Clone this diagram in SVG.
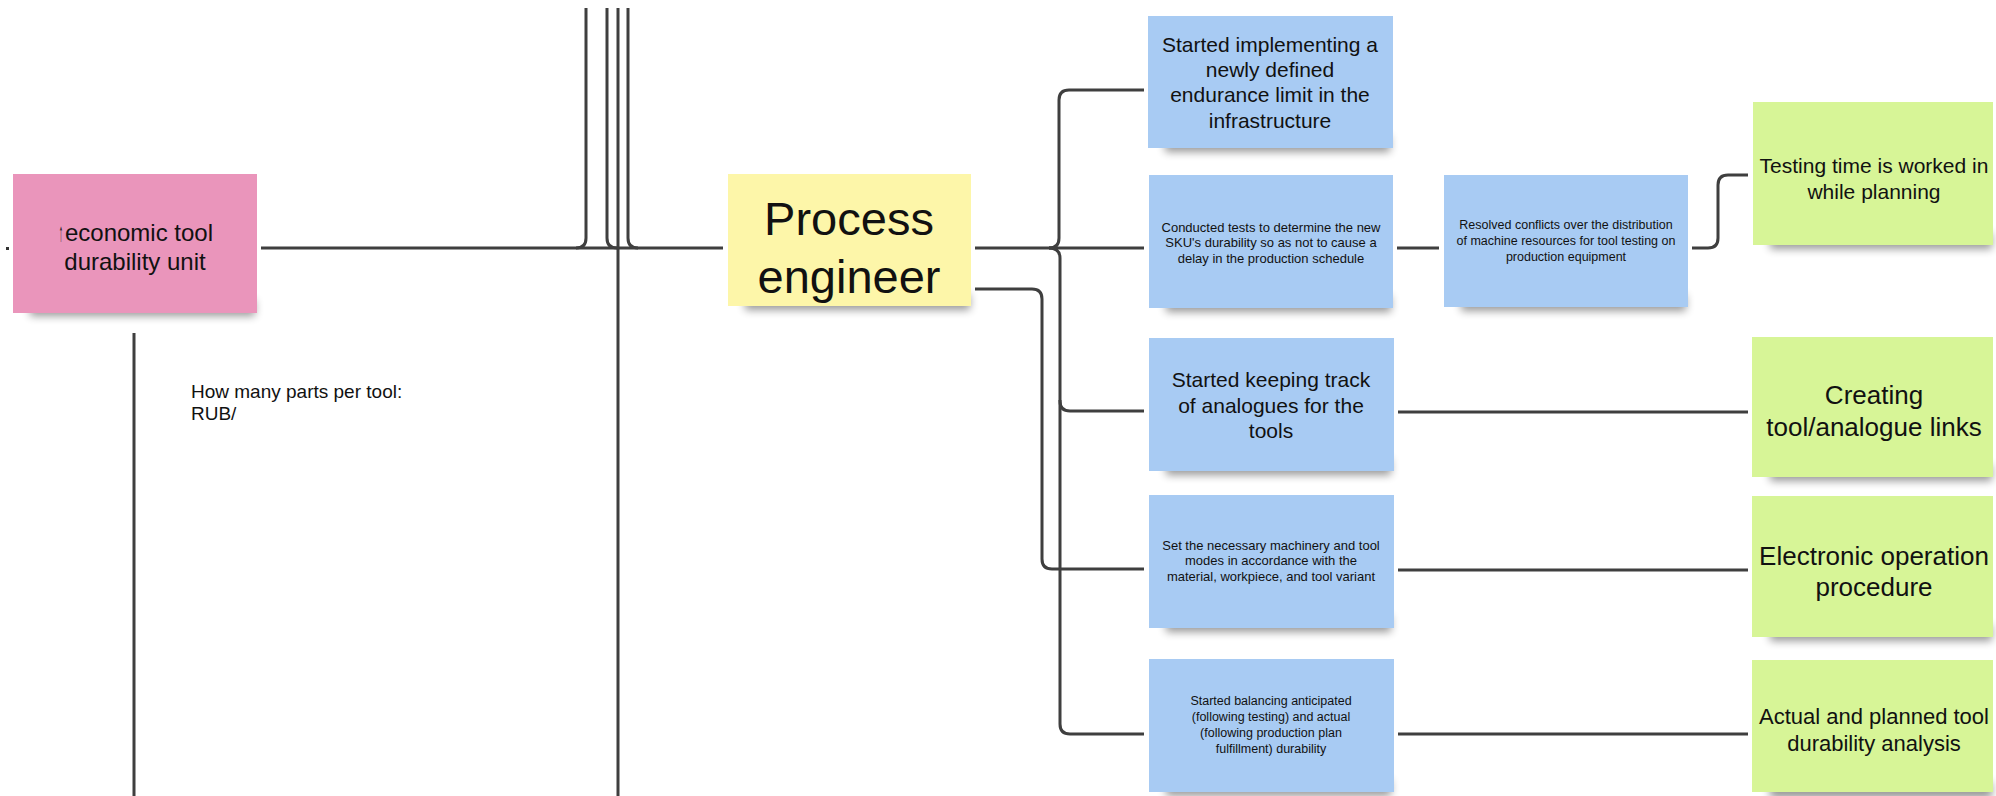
<svg xmlns="http://www.w3.org/2000/svg" width="1996" height="796" viewBox="0 0 1996 796">
<defs>
<filter id="blur" x="-20%" y="-100%" width="140%" height="300%"><feGaussianBlur stdDeviation="4"/></filter>
</defs>
<style>
text{font-family:"Liberation Sans",Arial,sans-serif;fill:#111;text-anchor:middle}
.c{fill:none;stroke:#3f3f3f;stroke-width:3;stroke-linejoin:round}
.sh{fill:#000;opacity:.4;filter:url(#blur)}
.pink{fill:#ea95bb}
.yel{fill:#fdf6a9}
.blue{fill:#a8cbf3}
.green{fill:#d7f597}
.s13{font-size:13px}
.s21{font-size:21px}
.s26{font-size:26px}
</style>
<rect width="1996" height="796" fill="#fff"/>

<g id="connectors">
  <path class="c" d="M261 248 H576 Q586 248 586 238 V8"/>
  <path class="c" d="M576 248 H723"/>
  <path class="c" d="M617 248 Q607 248 607 238 V8"/>
  <path class="c" d="M638 248 Q628 248 628 238 V8"/>
  <path class="c" d="M618 8 V796"/>
  <path class="c" d="M134 333 V796"/>
  <path class="c" d="M975 248 H1144"/>
  <path class="c" d="M1049 248 Q1059 248 1059 238 V100 Q1059 90 1069 90 H1144"/>
  <path class="c" d="M1049 248 Q1060 248 1060 258 V401 Q1060 411 1070 411 H1144"/>
  <path class="c" d="M1060 400 V724 Q1060 734 1070 734 H1144"/>
  <path class="c" d="M975 289 H1032 Q1042 289 1042 299 V559 Q1042 569 1052 569 H1144"/>
  <path class="c" d="M1397 248 H1439"/>
  <path class="c" d="M1692 248 H1708 Q1718 248 1718 238 V185 Q1718 175 1728 175 H1748"/>
  <path class="c" d="M1398 412 H1748"/>
  <path class="c" d="M1398 570 H1748"/>
  <path class="c" d="M1398 734 H1748"/>
</g>

<rect x="6" y="247" width="3" height="3" fill="#333"/>

<g id="economic-unit">
  <rect class="sh" x="30" y="300" width="225" height="16"/>
  <rect class="pink" x="13" y="174" width="244" height="139"/>
  <text x="61" y="241" font-size="26" transform="translate(61 0) scale(0.3 1) translate(-61 0)">↑</text>
  <text x="139" y="241" style="font-size:24px">economic tool</text>
  <text x="135" y="270" style="font-size:24px">durability unit</text>
</g>

<g id="note-parts">
  <text x="191" y="398" style="font-size:19px;text-anchor:start">How many parts per tool:</text>
  <text x="191" y="420" style="font-size:19px;text-anchor:start">RUB/</text>
</g>

<g id="process-engineer">
  <rect class="sh" x="745" y="294" width="225" height="16"/>
  <rect class="yel" x="728" y="174" width="243" height="132"/>
  <text x="849" y="235" style="font-size:47px">Process</text>
  <text x="849" y="293" style="font-size:47px">engineer</text>
</g>

<g id="b1">
  <rect class="sh" x="1165" y="136" width="225" height="16"/>
  <rect class="blue" x="1148" y="16" width="245" height="132"/>
  <text class="s21" x="1270" y="52">Started implementing a</text>
  <text class="s21" x="1270" y="77">newly defined</text>
  <text class="s21" x="1270" y="102">endurance limit in the</text>
  <text class="s21" x="1270" y="128">infrastructure</text>
</g>

<g id="b2">
  <rect class="sh" x="1166" y="296" width="225" height="16"/>
  <rect class="blue" x="1149" y="175" width="244" height="133"/>
  <text class="s13" x="1271" y="232">Conducted tests to determine the new</text>
  <text class="s13" x="1271" y="247">SKU's durability so as not to cause a</text>
  <text class="s13" x="1271" y="263">delay in the production schedule</text>
</g>

<g id="b3">
  <rect class="sh" x="1461" y="295" width="225" height="16"/>
  <rect class="blue" x="1444" y="175" width="244" height="132"/>
  <text x="1566" y="229" style="font-size:12.5px">Resolved conflicts over the distribution</text>
  <text x="1566" y="245" style="font-size:12.5px">of machine resources for tool testing on</text>
  <text x="1566" y="261" style="font-size:12.5px">production equipment</text>
</g>

<g id="g1">
  <rect class="sh" x="1770" y="233" width="222" height="16"/>
  <rect class="green" x="1753" y="102" width="240" height="143"/>
  <text class="s21" x="1874" y="173">Testing time is worked in</text>
  <text class="s21" x="1874" y="199">while planning</text>
</g>

<g id="b4">
  <rect class="sh" x="1166" y="459" width="225" height="16"/>
  <rect class="blue" x="1149" y="338" width="245" height="133"/>
  <text class="s21" x="1271" y="387">Started keeping track</text>
  <text class="s21" x="1271" y="413">of analogues for the</text>
  <text class="s21" x="1271" y="438">tools</text>
</g>

<g id="g2">
  <rect class="sh" x="1770" y="465" width="222" height="16"/>
  <rect class="green" x="1752" y="337" width="241" height="140"/>
  <text class="s26" x="1874" y="404">Creating</text>
  <text class="s26" x="1874" y="436">tool/analogue links</text>
</g>

<g id="b5">
  <rect class="sh" x="1166" y="616" width="225" height="16"/>
  <rect class="blue" x="1149" y="495" width="245" height="133"/>
  <text class="s13" x="1271" y="550">Set the necessary machinery and tool</text>
  <text class="s13" x="1271" y="565">modes in accordance with the</text>
  <text class="s13" x="1271" y="581">material, workpiece, and tool variant</text>
</g>

<g id="g3">
  <rect class="sh" x="1770" y="625" width="222" height="16"/>
  <rect class="green" x="1752" y="496" width="241" height="141"/>
  <text class="s26" x="1874" y="565">Electronic operation</text>
  <text class="s26" x="1874" y="596">procedure</text>
</g>

<g id="b6">
  <rect class="sh" x="1166" y="780" width="225" height="16"/>
  <rect class="blue" x="1149" y="659" width="245" height="133"/>
  <text x="1271" y="705" style="font-size:12.5px">Started balancing anticipated</text>
  <text x="1271" y="721" style="font-size:12.5px">(following testing) and actual</text>
  <text x="1271" y="737" style="font-size:12.5px">(following production plan</text>
  <text x="1271" y="753" style="font-size:12.5px">fulfillment) durability</text>
</g>

<g id="g4">
  <rect class="sh" x="1770" y="782" width="222" height="16"/>
  <rect class="green" x="1752" y="660" width="241" height="132"/>
  <text x="1874" y="724" style="font-size:22px">Actual and planned tool</text>
  <text x="1874" y="751" style="font-size:22px">durability analysis</text>
</g>
</svg>
